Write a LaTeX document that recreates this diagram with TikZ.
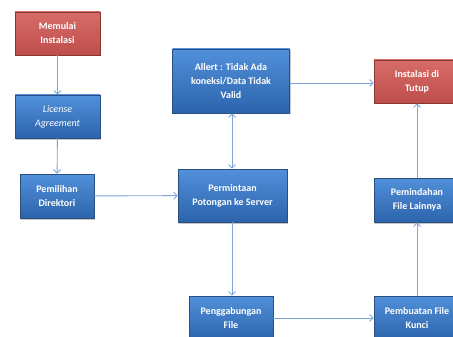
\documentclass[tikz,border=0pt]{standalone}
\usepackage{fontspec}
\setmainfont{Carlito}
\usetikzlibrary{shadows,arrows.meta}
\definecolor{bluetop}{HTML}{5290DB}
\definecolor{bluebot}{HTML}{2B64AB}
\definecolor{blueedge}{HTML}{2B4F7E}
\definecolor{redtop}{HTML}{D66C68}
\definecolor{redbot}{HTML}{BE4E4B}
\definecolor{rededge}{HTML}{8A3633}
\definecolor{linkc}{HTML}{7DA7DA}
\tikzset{
  box/.style={draw=#1edge, line width=0.6pt, top color=#1top, bottom color=#1bot,
    text=white, align=center, inner sep=0pt,
    font=\bfseries\fontsize{10}{14}\selectfont,
    drop shadow={shadow xshift=1.2pt, shadow yshift=-1.5pt, opacity=0.45}},
  link/.style={draw=linkc, line width=0.9pt, -{Straight Barb[length=3.5pt,width=7pt]}},
  dlink/.style={draw=linkc, line width=0.9pt, {Straight Barb[length=3.5pt,width=7pt]}-{Straight Barb[length=3.5pt,width=7pt]}}
}
\begin{document}
\begin{tikzpicture}[x=1pt,y=-1pt]
\useasboundingbox (0,0) rectangle (453,337);
\fill[white] (0,0) rectangle (453,337);
\node[box=red, minimum width=85pt, minimum height=43pt] (start) at (57.5,33.5) {Memulai\\Instalasi};
\node[box=blue, minimum width=85pt, minimum height=43pt, font=\itshape\fontsize{10}{14}\selectfont] (lic) at (57.5,116.5) {License\\Agreement};
\node[box=blue, minimum width=74pt, minimum height=44pt] (dir) at (57,196) {Pemilihan\\Direktori};
\node[box=blue, minimum width=117pt, minimum height=64pt] (alert) at (231,81) {Allert : Tidak Ada\\koneksi/Data Tidak\\Valid};
\node[box=blue, minimum width=109pt, minimum height=53pt] (req) at (232.5,195.5) {Permintaan\\Potongan ke Server};
\node[box=red, minimum width=86pt, minimum height=43pt] (end) at (417,81.5) {Instalasi di\\Tutup};
\node[box=blue, minimum width=86pt, minimum height=44pt] (move) at (417,200) {Pemindahan\\File Lainnya};
\node[box=blue, minimum width=84pt, minimum height=44pt] (join) at (231,318) {Penggabungan\\File};
\node[box=blue, minimum width=86pt, minimum height=44pt] (key) at (417,318) {Pembuatan File\\Kunci};
\draw[link] (start) -- (lic);
\draw[link] (lic) -- (dir);
\draw[link] (dir) -- (req);
\draw[dlink] (req.north -| 232,0) -- (alert.south -| 232,0);
\draw[link] (alert.east |- 0,83) -- (end.west |- 0,83);
\draw[link] (req.south -| 232,0) -- (join.north -| 232,0);
\draw[link] (join) -- (key);
\draw[link] (key) -- (move);
\draw[link] (move) -- (end);
\end{tikzpicture}
\end{document}
